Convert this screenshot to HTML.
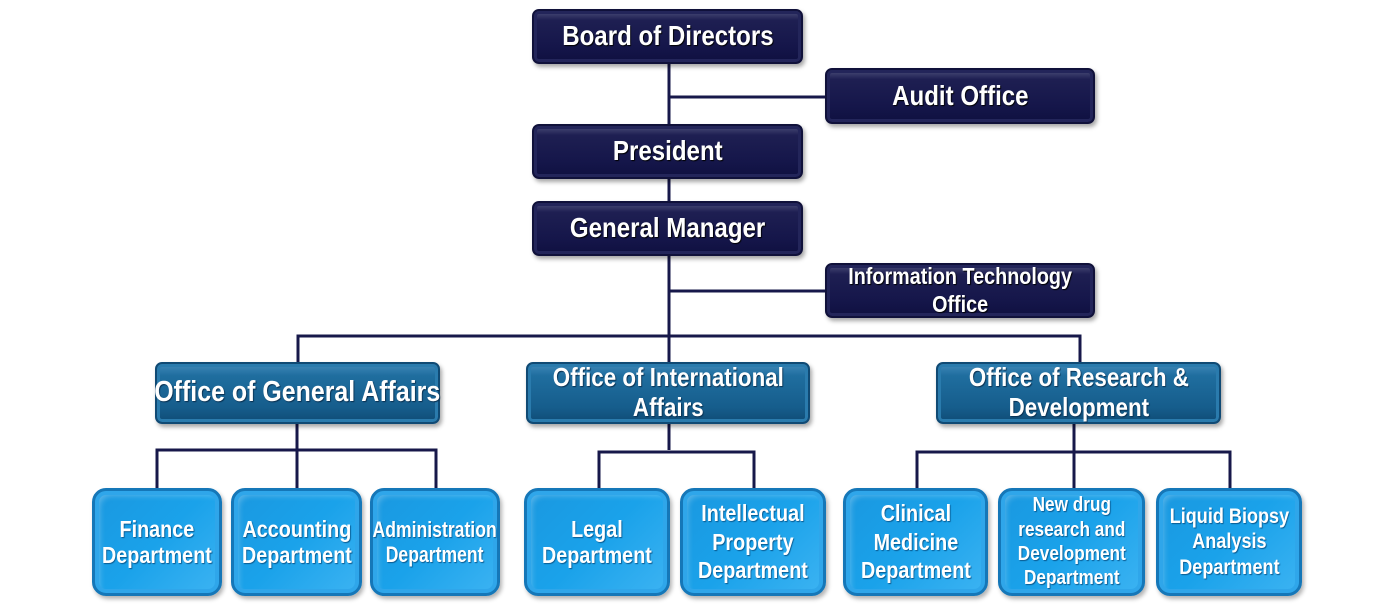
<!DOCTYPE html>
<html><head><style>
body{margin:0;width:1385px;height:608px;background:#fff;position:relative;overflow:hidden;font-family:"Liberation Sans",sans-serif;font-weight:bold;color:#fff}
.b{position:absolute;box-sizing:border-box;display:flex;align-items:center;justify-content:center;text-align:center;line-height:1.15}
.b span{display:inline-block;white-space:nowrap;transform:scaleX(0.86)}
.d{background:linear-gradient(#4a4d78 0%,#1e1f52 18%,#15164a 70%,#0f1040 100%);border:2px solid #10113a;border-radius:7px;box-shadow:inset 0 0 0 3px #23255a,2px 3px 4px rgba(0,0,0,.35);font-size:28px;text-shadow:1px 1px 1px #000}
.m{background:linear-gradient(#3f87b8 0%,#1f6e9f 20%,#165d8c 75%,#0f4c76 100%);border:2px solid #104a74;border-radius:7px;box-shadow:inset 0 0 0 3px #2a7bad,2px 3px 4px rgba(0,0,0,.35);font-size:26px;text-shadow:1px 1px 1px #0a3050}
.l{background:linear-gradient(135deg,#1a98e0 0%,#1aa2ea 50%,#3cb3f2 100%);border:3px solid #1577b8;border-radius:14px;box-shadow:inset 0 0 0 4px #2fa6ea,inset 5px 5px 6px rgba(255,255,255,.25),2px 3px 4px rgba(0,0,0,.3);font-size:23px;text-shadow:1px 1px 1px #0a5a90}
svg{position:absolute;left:0;top:0}
</style></head><body>
<svg width="1385" height="608"><g stroke="#17184a" stroke-width="3" fill="none">
<line x1="669" y1="64" x2="669" y2="336"/>
<line x1="669" y1="97" x2="826" y2="97"/>
<line x1="669" y1="291" x2="826" y2="291"/>
<polyline points="298,362 298,336 1080,336 1080,362"/>
<line x1="669" y1="336" x2="669" y2="362"/>
<line x1="297" y1="424" x2="297" y2="488"/>
<polyline points="157,488 157,450 436,450 436,488"/>
<line x1="669" y1="424" x2="669" y2="450"/>
<polyline points="599,488 599,452 754,452 754,488"/>
<line x1="1074" y1="424" x2="1074" y2="488"/>
<polyline points="917,488 917,452 1230,452 1230,488"/>
</g></svg>
<div class="b d" style="left:532px;top:9px;width:271px;height:55px"><span>Board of Directors</span></div>
<div class="b d" style="left:825px;top:68px;width:270px;height:56px"><span>Audit Office</span></div>
<div class="b d" style="left:532px;top:124px;width:271px;height:55px"><span>President</span></div>
<div class="b d" style="left:532px;top:201px;width:271px;height:55px"><span>General Manager</span></div>
<div class="b d" style="left:825px;top:263px;width:270px;height:55px;font-size:23px;line-height:1.2"><span>Information Technology<br>Office</span></div>
<div class="b m" style="left:155px;top:362px;width:285px;height:62px;font-size:29px"><span>Office of General Affairs</span></div>
<div class="b m" style="left:526px;top:362px;width:284px;height:62px"><span>Office of International<br>Affairs</span></div>
<div class="b m" style="left:936px;top:362px;width:285px;height:62px"><span>Office of Research &amp;<br>Development</span></div>
<div class="b l" style="left:92px;top:488px;width:130px;height:108px"><span>Finance<br>Department</span></div>
<div class="b l" style="left:231px;top:488px;width:131px;height:108px"><span>Accounting<br>Department</span></div>
<div class="b l" style="left:370px;top:488px;width:130px;height:108px;font-size:22px"><span style="transform:scaleX(0.8)">Administration<br>Department</span></div>
<div class="b l" style="left:524px;top:488px;width:146px;height:108px"><span>Legal<br>Department</span></div>
<div class="b l" style="left:680px;top:488px;width:146px;height:108px;line-height:1.25"><span>Intellectual<br>Property<br>Department</span></div>
<div class="b l" style="left:843px;top:488px;width:145px;height:108px;line-height:1.25"><span>Clinical<br>Medicine<br>Department</span></div>
<div class="b l" style="left:998px;top:488px;width:147px;height:108px;font-size:20px;line-height:1.22"><span>New drug<br>research and<br>Development<br>Department</span></div>
<div class="b l" style="left:1156px;top:488px;width:146px;height:108px;font-size:21px;line-height:1.2"><span>Liquid Biopsy<br>Analysis<br>Department</span></div>
</body></html>
